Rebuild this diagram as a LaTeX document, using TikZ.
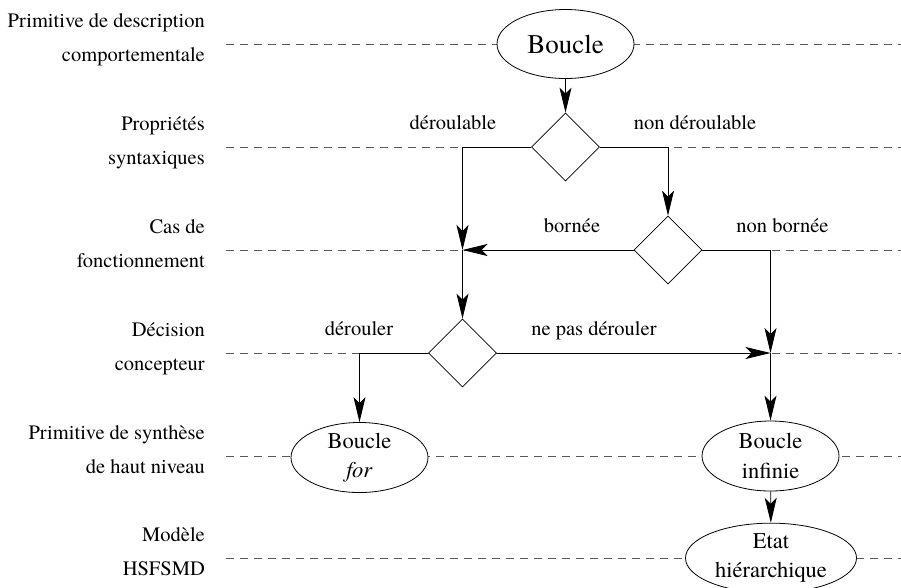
\documentclass[tikz,border=0pt]{standalone}
\usepackage{fontspec}
\setmainfont{texgyretermes}[Extension=.otf,UprightFont=*-regular,ItalicFont=*-italic,BoldFont=*-bold,BoldItalicFont=*-bolditalic]
\usetikzlibrary{shapes.geometric,arrows.meta}
\begin{document}
\begin{tikzpicture}[x=1pt,y=-1pt,
  rowlab/.style={anchor=base east,inner sep=0pt,font=\fontsize{20.5}{24}\selectfont},
  edgelab/.style={anchor=base,inner sep=0pt,font=\fontsize{20.5}{24}\selectfont},
  guide/.style={draw=black!65,line width=0.8pt,dash pattern=on 8pt off 6pt},
  oval/.style={ellipse,draw,fill=white,inner sep=0pt,line width=0.8pt,align=center,font=\fontsize{22.5}{29.5}\selectfont},
  choice/.style={diamond,draw,fill=white,inner sep=0pt,minimum width=68pt,minimum height=68pt,aspect=1,line width=0.8pt},
  flow/.style={draw,line width=0.8pt,-{Stealth[length=25pt,width=12pt,inset=6pt]}},
]
\useasboundingbox (0,0) rectangle (901,587);

% guide lines
\foreach \yy/\nm in {44/g1,147/g2,250/g3,353/g4,456/g5,558/g6}{
  \coordinate (\nm a) at (226,\yy);
  \coordinate (\nm b) at (901,\yy);
  \draw[guide] (\nm a) -- (\nm b);
}

% row labels
\node[rowlab] (r1a) at (205,27) {Primitive de description};
\node[rowlab] (r1b) at (205,61) {comportementale};
\node[rowlab] (r2a) at (205,130) {Propriétés};
\node[rowlab] (r2b) at (205,164) {syntaxiques};
\node[rowlab] (r3a) at (205,233) {Cas de};
\node[rowlab] (r3b) at (205,267) {fonctionnement};
\node[rowlab] (r4a) at (205,336) {Décision};
\node[rowlab] (r4b) at (205,370) {concepteur};
\node[rowlab] (r5a) at (205,439) {Primitive de synthèse};
\node[rowlab] (r5b) at (205,473) {de haut niveau};
\node[rowlab] (r6a) at (205,541) {Modèle};
\node[rowlab] (r6b) at (205,575) {HSFSMD};

% nodes
\node[oval,minimum width=137pt,minimum height=69pt,font=\fontsize{27}{30}\selectfont] (B0) at (565.5,44) {Boucle};
\node[choice] (D1) at (565.5,147) {};
\node[choice] (D2) at (668,250) {};
\node[choice] (D3) at (462.5,353) {};
\node[oval,minimum width=137pt,minimum height=65pt] (BF) at (359.5,457.5) {Boucle\\\textit{for}};
\node[oval,minimum width=137pt,minimum height=70pt] (BI) at (770.5,456) {Boucle\\infinie};
\node[oval,minimum width=171pt,minimum height=66pt] (ET) at (771,558) {Etat\\hiérarchique};

\coordinate (cL1) at (462.5,147);
\coordinate (J1) at (462.5,250);
\coordinate (J2) at (770.5,353);

% connectors
\draw[flow] (B0) -- (D1);
\draw[flow] (D1.west) -- (cL1) -- (J1);
\draw[flow] (D2.west) -- (J1);
\draw[flow] (J1) -- (D3.north);
\draw[flow] (D1.east) -| (D2.north);
\draw[flow] (D2.east) -| (J2);
\draw[flow] (D3.east) -- (J2);
\draw[flow] (J2) -- (BI.north);
\draw[flow] (D3.west) -| (BF.north);
\draw[flow] (BI) -- (ET);

% edge labels
\node[edgelab] (l1) at (453,129) {déroulable};
\node[edgelab] (l2) at (695,129) {non déroulable};
\node[edgelab] (l3) at (572,232.5) {bornée};
\node[edgelab] (l4) at (782.5,232.5) {non bornée};
\node[edgelab] (l5) at (359,335.5) {dérouler};
\node[edgelab] (l6) at (594,335.5) {ne pas dérouler};
\end{tikzpicture}
\end{document}
